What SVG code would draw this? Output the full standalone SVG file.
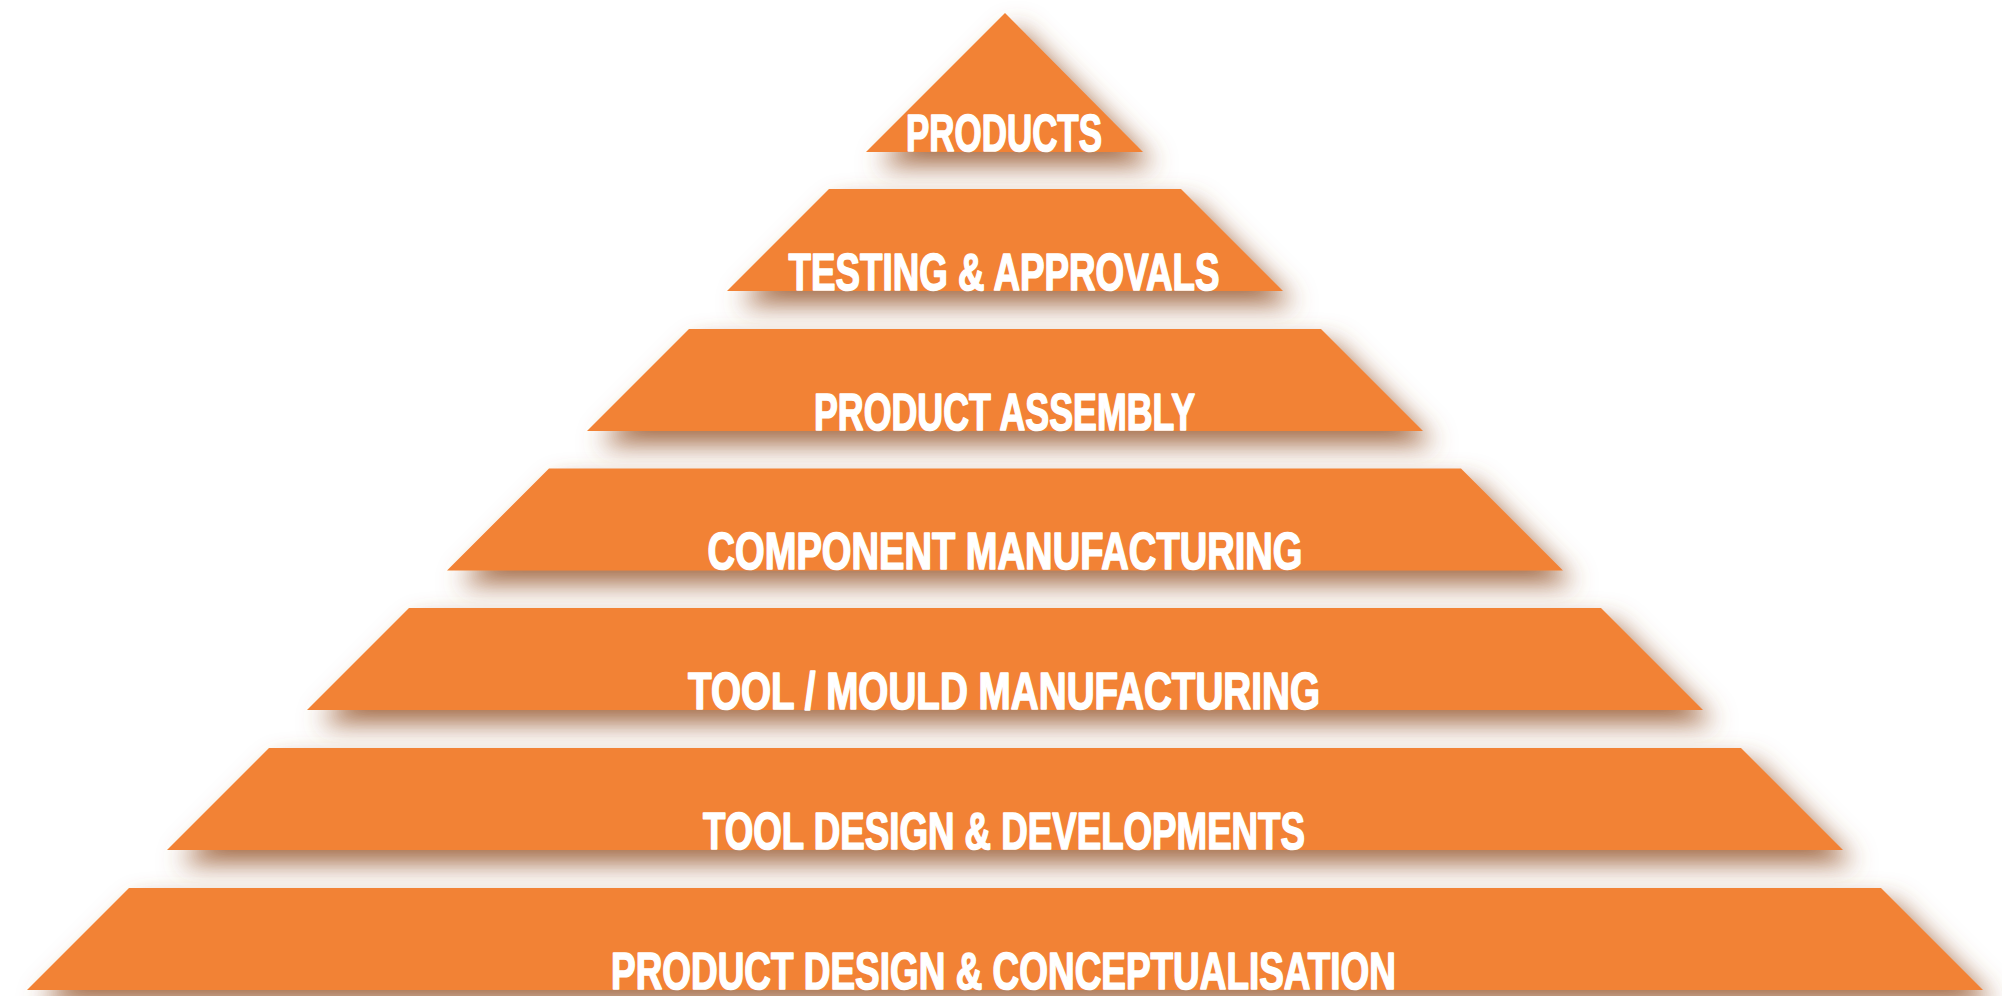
<svg xmlns="http://www.w3.org/2000/svg" width="2002" height="996" viewBox="0 0 2002 996">
  <style>
    .tier { fill: #f28234; filter: url(#sh); }
    .lbl { fill: #ffffff; stroke: #ffffff; stroke-width: 1.6px; stroke-linejoin: round; font-family: "Liberation Sans", Arial, sans-serif; font-weight: bold; font-size: 51px; text-anchor: middle; }
  </style>
  <defs>
    <filter id="sh" x="-12%" y="-60%" width="130%" height="240%">
      <feGaussianBlur in="SourceAlpha" stdDeviation="13" result="b"/>
      <feOffset in="b" dx="12" dy="14" result="o"/>
      <feFlood flood-color="#9c5e36" flood-opacity="0.9"/>
      <feComposite in2="o" operator="in" result="s"/>
      <feMerge>
        <feMergeNode in="s"/>
        <feMergeNode in="SourceGraphic"/>
      </feMerge>
    </filter>
  </defs>
  <rect width="2002" height="996" fill="#ffffff"/>
  <g id="products">
    <polygon class="tier" points="1005,13 1143,152 866,152"/>
    <text class="lbl" x="1004" y="150.5" textLength="196" lengthAdjust="spacingAndGlyphs">PRODUCTS</text>
  </g>
  <g id="testing-approvals">
    <polygon class="tier" points="829,189 1181,189 1283,291 727,291"/>
    <text class="lbl" x="1004" y="289.5" textLength="431" lengthAdjust="spacingAndGlyphs">TESTING &amp; APPROVALS</text>
  </g>
  <g id="product-assembly">
    <polygon class="tier" points="689,329 1321,329 1423,431 587,431"/>
    <text class="lbl" x="1004.5" y="429.5" textLength="381" lengthAdjust="spacingAndGlyphs">PRODUCT ASSEMBLY</text>
  </g>
  <g id="component-manufacturing">
    <polygon class="tier" points="549,468.5 1461,468.5 1563,570.5 447,570.5"/>
    <text class="lbl" x="1005" y="569" textLength="595" lengthAdjust="spacingAndGlyphs">COMPONENT MANUFACTURING</text>
  </g>
  <g id="tool-mould-manufacturing">
    <polygon class="tier" points="409,608 1601,608 1703,710 307,710"/>
    <text class="lbl" x="1004" y="708.5" textLength="632" lengthAdjust="spacingAndGlyphs">TOOL / MOULD MANUFACTURING</text>
  </g>
  <g id="tool-design-developments">
    <polygon class="tier" points="269,748 1741,748 1843,850 167,850"/>
    <text class="lbl" x="1004" y="848.5" textLength="602" lengthAdjust="spacingAndGlyphs">TOOL DESIGN &amp; DEVELOPMENTS</text>
  </g>
  <g id="product-design-conceptualisation">
    <polygon class="tier" points="129,888 1881,888 1983,990 27,990"/>
    <text class="lbl" x="1003.5" y="988.5" textLength="785" lengthAdjust="spacingAndGlyphs">PRODUCT DESIGN &amp; CONCEPTUALISATION</text>
  </g>
</svg>
